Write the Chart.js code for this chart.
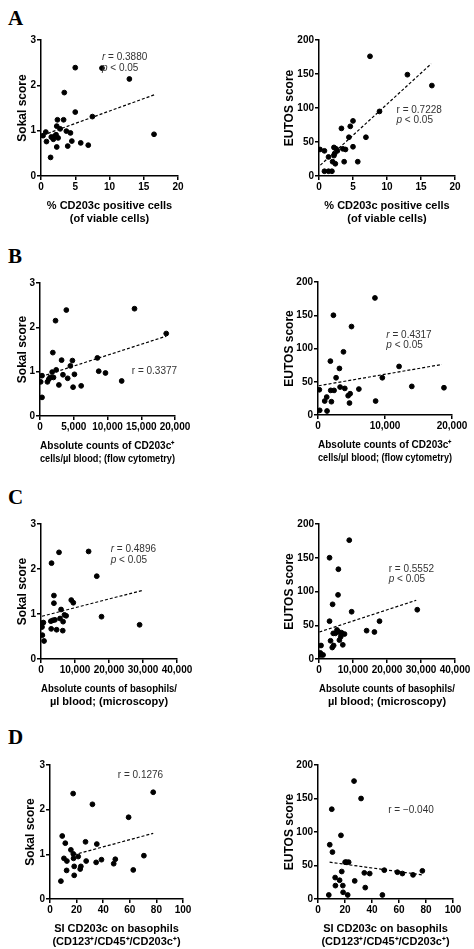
<!DOCTYPE html>
<html>
<head>
<meta charset="utf-8">
<script src="https://cdn.jsdelivr.net/npm/chart.js@4.4.0/dist/chart.umd.min.js"></script>
<style>
  body { margin: 0; background: #fff; }
  #wrap { position: relative; width: 474px; height: 949px; }
  canvas { position: absolute; }
  .lbl { position: absolute; font: bold 21px "Liberation Serif", "DejaVu Serif", serif; }
</style>
</head>
<body>
<div id="wrap">
  <div class="lbl" style="left:8px;top:6px">A</div>
  <div class="lbl" style="left:8px;top:244px">B</div>
  <div class="lbl" style="left:8px;top:485px">C</div>
  <div class="lbl" style="left:8px;top:725px">D</div>
  <canvas id="aL"></canvas><canvas id="aR"></canvas>
  <canvas id="bL"></canvas><canvas id="bR"></canvas>
  <canvas id="cL"></canvas><canvas id="cR"></canvas>
  <canvas id="dL"></canvas><canvas id="dR"></canvas>
</div>
<script>
// ---- data ----
// A: % CD203c positive cells
const aSokalX = [0.3,0.7,0.8,1.4,1.5,1.8,2.0,2.2,2.3,2.3,2.4,2.5,2.8,3.3,3.4,3.7,3.9,4.3,4.5,5.0,5.0,5.8,6.9,7.5,8.9,12.9,16.5];
const aSokalY = [0.89,0.97,0.76,0.41,0.86,0.81,0.88,0.91,0.64,1.10,1.24,0.84,1.04,1.24,1.84,0.99,0.66,0.95,0.77,2.39,1.41,0.73,0.68,1.31,2.38,2.14,0.92];
const aSokalFit = [[1.0,0.94],[16.7,1.8]];
const aEutosX = [0.15,0.8,0.8,1.4,1.4,1.9,2.0,2.2,2.2,2.3,2.4,2.5,2.7,3.3,3.5,3.7,3.9,4.4,4.6,5.0,5.0,5.7,6.9,7.5,8.9,13.0,16.6];
const aEutosY = [39,37,7,28,7,7,21,42,30,33,18,40,37,70,40,21,39,57,73,43,81,21,57,176,95,149,133];
const aEutosFit = [[0.2,16],[16.5,165]];

// B: absolute counts of CD203c+ cells (flow cytometry)
const bSokalX = [100,300,300,1100,1300,1500,1800,1900,2000,2300,2400,2800,3200,3400,3900,4100,4500,4800,4900,5100,6100,8500,8700,9700,12100,14000,18700];
const bSokalY = [0.77,0.91,0.42,0.77,0.83,0.87,0.99,1.43,0.87,2.15,1.04,0.70,1.26,0.93,2.39,0.85,1.13,1.25,0.65,0.94,0.68,1.31,1.01,0.97,0.79,2.42,1.86];
const bSokalFit = [[200,0.89],[18700,1.8]];
const bEutosX = [200,250,1000,1300,1350,1850,1900,2000,2300,2400,2700,3200,3300,3800,4000,4500,4700,4800,5000,6100,8500,8600,9600,12100,14000,18800];
const bEutosY = [38,7,21,27,6,81,37,20,150,37,56,70,42,95,40,29,18,32,133,39,176,21,56,73,43,41];
const bEutosFit = [[100,44],[18500,76]];

// C: absolute counts of basophils (microscopy)
const cSokalX = [0,300,500,400,700,900,3100,2900,3000,3500,3800,3800,4100,4600,5300,5600,5900,6500,6400,6900,7400,8900,9500,14000,16400,17800,29000];
const cSokalY = [0.75,0.71,0.80,0.53,0.81,0.40,2.13,0.84,0.67,0.86,1.41,1.24,0.87,0.65,2.37,0.90,1.10,0.83,0.63,0.98,0.96,1.31,1.25,2.39,1.84,0.94,0.76];
const cSokalFit = [[300,0.95],[30100,1.53]];
const cEutosX = [100,400,600,700,1200,3100,3100,3400,4000,3900,4200,4300,4800,5300,5600,5700,5800,6000,6400,6600,7000,7500,8900,9600,14000,16300,17800,28900];
const cEutosY = [6,9,20,6,6,150,56,27,81,17,38,20,38,43,95,133,40,28,33,39,21,37,176,70,42,40,56,73];
const cEutosFit = [[100,40],[28600,87]];

// D: SI CD203c on basophils
const dSokalX = [8.2,9.2,10.5,11.5,12.5,12.7,15.7,17.4,17.5,17.7,18.2,18.2,21.2,22.7,23.2,26.7,27.2,31.9,34.7,35.2,38.7,47.9,49.1,59.1,62.6,70.6,77.6];
const dSokalY = [0.40,1.41,0.91,1.25,0.64,0.85,1.10,2.36,1.01,0.91,0.53,0.73,0.95,0.67,0.73,1.28,0.85,2.12,0.82,1.23,0.88,0.79,0.89,1.83,0.65,0.97,2.39];
const dSokalFit = [[18,0.99],[77.6,1.47]];
const dEutosX = [8,8.7,10.2,10.7,12.7,12.9,16,17,17.6,18.4,18.6,20.1,22,21,22.7,26.7,27.2,31.9,34.3,35,38.3,47.7,49.1,58.8,62.5,70.4,77.3];
const dEutosY = [6,81,134,70,32,20,28,95,41,20,10,55,6,55,55,176,27,150,39,17,38,6,43,40,38,36,42];
const dEutosFit = [[8.6,55],[77.3,36]];

// ---- drawing ----
const FONT = '"Liberation Sans", Arial, sans-serif';
const noteText = {
  id: 'noteText',
  afterDatasetsDraw(chart, args, opts) {
    const ctx = chart.ctx, xs = chart.scales.x, ys = chart.scales.y;
    ctx.save();
    ctx.fillStyle = '#333';
    ctx.textBaseline = 'middle';
    (opts.lines || []).forEach(l => {
      let x = xs.getPixelForValue(l.x);
      const y = ys.getPixelForValue(l.y);
      ctx.font = (l.it ? 'italic ' : '') + '10px ' + FONT;
      ctx.fillText(l.it, x, y);
      x += ctx.measureText(l.it).width;
      ctx.font = '10px ' + FONT;
      ctx.fillText(l.t, x, y);
    });
    ctx.restore();
  }
};

function panel(id, cell, plot, xs, ys, fit, xmax, xstep, ymax, ystep, xTitle, yTitle, yTitleX, notes) {
  const cv = document.getElementById(id);
  cv.style.left = cell[0] + 'px';
  cv.style.top = cell[1] + 'px';
  cv.width = cell[2]; cv.height = cell[3];
  const yW = plot[0] - cell[0];
  const xH = 50;
  new Chart(cv, {
    type: 'scatter',
    data: {
      datasets: [
        { data: xs.map((v, i) => ({ x: v, y: ys[i] })), backgroundColor: '#000', borderColor: '#000', pointRadius: 2.4 },
        { type: 'line', data: fit.map(p => ({ x: p[0], y: p[1] })), borderColor: '#000', borderWidth: 1.2, borderDash: [3, 2], pointRadius: 0, fill: false }
      ]
    },
    options: {
      responsive: false, animation: false, events: [],
      layout: { padding: { top: plot[1] - cell[1], right: cell[0] + cell[2] - plot[2], bottom: cell[1] + cell[3] - plot[3] - xH, left: 0 } },
      plugins: { legend: { display: false }, tooltip: { enabled: false }, noteText: { lines: notes } },
      scales: {
        x: {
          type: 'linear', min: 0, max: xmax,
          afterFit: s => { s.height = xH; },
          border: { color: '#000', width: 1.5 },
          grid: { drawOnChartArea: false, color: '#000', lineWidth: 1.5, tickLength: 4 },
          ticks: { stepSize: xstep, color: '#000', font: { family: FONT, size: 10, weight: 'bold' }, padding: 1, maxRotation: 0,
                   callback: v => v.toLocaleString('en-US') },
          title: { display: true, text: xTitle, color: '#000', font: { family: FONT, size: 11, weight: 'bold', lineHeight: 1.2 }, padding: { top: 2, bottom: 0 } }
        },
        y: {
          min: 0, max: ymax,
          afterFit: s => { s.width = yW; },
          border: { color: '#000', width: 1.5 },
          grid: { drawOnChartArea: false, color: '#000', lineWidth: 1.5, tickLength: 4 },
          ticks: { stepSize: ystep, color: '#000', font: { family: FONT, size: 10, weight: 'bold' }, padding: 1 },
          title: { display: true, text: yTitle, color: '#000', font: { family: FONT, size: 12, weight: 'bold', lineHeight: 1.2 }, padding: { top: yTitleX - 7, bottom: 0 } }
        }
      }
    },
    plugins: [noteText]
  });
}

const xA = ['% CD203c positive cells', '(of viable cells)'];
const xB = ['Absolute counts of CD203c\u207A', 'cells/\u00B5l blood; (flow cytometry)'];
const xC = ['Absolute counts of basophils/', '\u00B5l blood; (microscopy)'];
const xD = ['SI CD203c on basophils', '(CD123\u207A/CD45\u207A/CD203c\u207A)'];

panel('aL', [0, 0, 237, 235], [41, 40, 178, 176], aSokalX, aSokalY, aSokalFit, 20, 5, 3, 1, xA, 'Sokal score', 22,
  [{ it: 'r', t: ' = 0.3880', x: 8.9, y: 2.62 }, { it: 'p', t: ' < 0.05', x: 8.9, y: 2.37 }]);
panel('aR', [237, 0, 237, 235], [319, 40, 455, 176], aEutosX, aEutosY, aEutosFit, 20, 5, 200, 50, xA, 'EUTOS score', 52,
  [{ it: '', t: 'r = 0.7228', x: 11.4, y: 97 }, { it: 'p', t: ' < 0.05', x: 11.4, y: 82 }]);
panel('bL', [0, 235, 237, 240], [40, 283, 175, 416], bSokalX, bSokalY, bSokalFit, 20000, 5000, 3, 1, xB, 'Sokal score', 22,
  [{ it: '', t: 'r = 0.3377', x: 13600, y: 1.0 }]);
panel('bR', [237, 235, 237, 240], [318, 282, 452, 415], bEutosX, bEutosY, bEutosFit, 20000, 5000, 200, 50, xB, 'EUTOS score', 52,
  [{ it: 'r', t: ' = 0.4317', x: 10200, y: 120 }, { it: 'p', t: ' < 0.05', x: 10200, y: 105 }]);
panel('cL', [0, 475, 237, 240], [41, 524, 177, 659], cSokalX, cSokalY, cSokalFit, 40000, 10000, 3, 1, xC, 'Sokal score', 22,
  [{ it: 'r', t: ' = 0.4896', x: 20500, y: 2.45 }, { it: 'p', t: ' < 0.05', x: 20500, y: 2.2 }]);
panel('cR', [237, 475, 237, 240], [319, 524, 455, 659], cEutosX, cEutosY, cEutosFit, 40000, 10000, 200, 50, xC, 'EUTOS score', 52,
  [{ it: '', t: 'r = 0.5552', x: 20500, y: 133 }, { it: 'p', t: ' < 0.05', x: 20500, y: 118 }]);
panel('dL', [0, 715, 237, 234], [50, 765, 183, 899], dSokalX, dSokalY, dSokalFit, 100, 20, 3, 1, xD, 'Sokal score', 30,
  [{ it: '', t: 'r = 0.1276', x: 51, y: 2.76 }]);
panel('dR', [237, 715, 237, 234], [318, 765, 453, 899], dEutosX, dEutosY, dEutosFit, 100, 20, 200, 50, xD, 'EUTOS score', 52,
  [{ it: '', t: 'r = \u22120.040', x: 52, y: 133 }]);
</script>
</body>
</html>
